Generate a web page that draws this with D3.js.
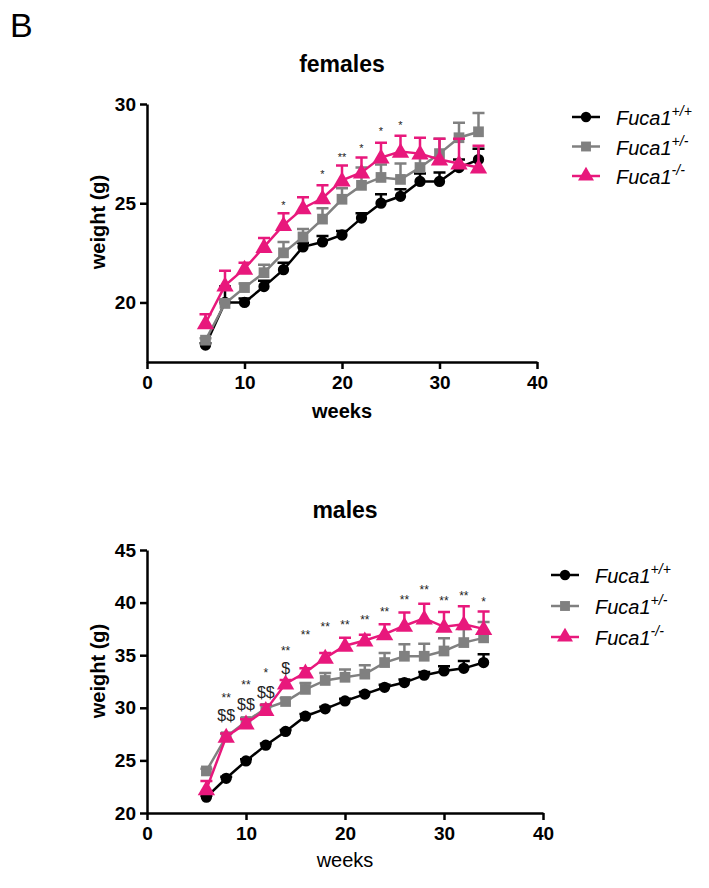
<!DOCTYPE html>
<html><head><meta charset="utf-8">
<script src="https://cdn.jsdelivr.net/npm/d3@7"></script>
<style>
body{margin:0;background:#fff}
svg{display:block}
text{font-family:"Liberation Sans",Arial,Helvetica,sans-serif}
</style>
</head><body>
<svg id="c" width="709" height="888"></svg>
<script>
// ---------- data ----------
const weeks = [6, 8, 10, 12, 14, 16, 18, 20, 22, 24, 26, 28, 30, 32, 34];
const xTicks = [0, 10, 20, 30, 40];
const femaleYTicks = [20, 25, 30];
const maleYTicks = [20, 25, 30, 35, 40, 45];
const genotypes = ["+/+", "+/-", "-/-"];

const femaleWT    = [17.85, 20.0, 20.0, 20.8, 21.65, 22.8, 23.05, 23.4, 24.25, 25.0, 25.35, 26.1, 26.1, 26.8, 27.2];
const femaleWTse  = [0.1, 0.8, 0.2, 0.3, 0.35, 0.2, 0.3, 0.2, 0.25, 0.45, 0.35, 0.4, 0.45, 0.4, 0.55];
const femaleHet   = [18.1, 19.95, 20.75, 21.5, 22.5, 23.3, 24.2, 25.2, 25.9, 26.3, 26.2, 26.8, 27.5, 28.3, 28.6];
const femaleHetse = [0.1, 0.2, 0.2, 0.4, 0.55, 0.4, 0.55, 0.55, 0.9, 0.65, 0.8, 0.55, 0.75, 0.75, 0.95];
const femaleKO    = [18.95, 20.85, 21.7, 22.8, 23.9, 24.75, 25.25, 26.15, 26.55, 27.3, 27.6, 27.5, 27.2, 27.0, 26.8];
const femaleKOse  = [0.45, 0.75, 0.3, 0.45, 0.6, 0.55, 0.65, 0.75, 0.75, 0.75, 0.8, 0.8, 1.05, 1.25, 1.1];

const maleWT    = [21.5, 23.3, 24.95, 26.45, 27.75, 29.2, 29.9, 30.65, 31.3, 31.95, 32.4, 33.1, 33.5, 33.75, 34.3];
const maleWTse  = [0.15, 0.15, 0.15, 0.15, 0.15, 0.2, 0.2, 0.2, 0.2, 0.25, 0.3, 0.3, 0.45, 0.7, 0.8];
const maleHet   = [24.0, 27.25, 28.7, 29.95, 30.6, 31.75, 32.6, 32.9, 33.2, 34.3, 34.9, 34.9, 35.4, 36.2, 36.65];
const maleHetse = [0.2, 0.3, 0.3, 0.3, 0.3, 0.6, 0.7, 0.75, 0.85, 0.9, 1.15, 1.2, 1.2, 1.3, 1.5];
const maleKO    = [22.25, 27.25, 28.5, 29.8, 32.3, 33.35, 34.75, 35.9, 36.4, 37.0, 37.8, 38.5, 37.7, 37.95, 37.5];
const maleKOse  = [0.8, 0.3, 0.4, 0.5, 0.35, 0.4, 0.45, 0.75, 0.55, 0.95, 1.25, 1.4, 1.4, 1.7, 1.65];

// significance annotations (week, label, level in g)
const femaleSigWeeks  = [14, 18, 20, 22, 24, 26];
const femaleSigLabels = ["*", "*", "**", "*", "*", "*"];
const femaleSigLevels = [25.05, 26.57, 27.47, 27.88, 28.74, 29.04];

const maleSigWeeks  = [8, 10, 12, 14, 16, 18, 20, 22, 24, 26, 28, 30, 32, 34];
const maleSigLabels = ["**", "**", "*", "**", "**", "**", "**", "**", "**", "**", "**", "**", "**", "*"];
const maleSigLevels = [31.2, 32.45, 33.6, 35.7, 37.2, 38.0, 38.15, 38.6, 39.4, 40.5, 41.5, 40.45, 40.9, 40.35];

const maleHetSigWeeks  = [8, 10, 12, 14];
const maleHetSigLabels = ["$$", "$$", "$$", "$"];
const maleHetSigLevels = [29.3, 30.35, 31.5, 33.8];

// ---------- drawing ----------
const colors = ["#000000", "#808080", "#e8187c"];
const symbols = [d3.symbolCircle, d3.symbolSquare, d3.symbolTriangle];
const symSizes = [100, 115, 130];
const svg = d3.select("#c");

svg.append("text").attr("x", 10).attr("y", 37).attr("font-size", 34).text("B");

function panel(o) {
  const g = svg.append("g");
  const x = d3.scaleLinear().domain([0, 40]).range([o.x0, o.x1]);
  const y = d3.scaleLinear().domain(o.yDomain).range([o.yb, o.yt]);

  const xa = g.append("g").attr("transform", `translate(0,${o.yb})`)
    .call(d3.axisBottom(x).tickValues(xTicks).tickSize(7).tickSizeOuter(0).tickPadding(7));
  const ya = g.append("g").attr("transform", `translate(${o.x0},0)`)
    .call(d3.axisLeft(y).tickValues(o.yTicks).tickSize(7).tickSizeOuter(0).tickPadding(4));
  [xa, ya].forEach(a => {
    a.selectAll("path,line").attr("stroke", "#000").attr("stroke-width", 2.5);
    a.selectAll("text").attr("font-size", 19).attr("font-weight", "bold").attr("fill", "#000")
      .style("font-family", '"Liberation Sans",Arial,sans-serif');
  });

  // title & labels
  g.append("text").attr("x", (o.x0 + o.x1) / 2).attr("y", o.titleY)
    .attr("text-anchor", "middle").attr("font-size", 23).attr("font-weight", "bold").text(o.title);
  g.append("text").attr("x", (o.x0 + o.x1) / 2).attr("y", o.xLabelY)
    .attr("text-anchor", "middle").attr("font-size", 20)
    .attr("font-weight", o.xLabelBold ? "bold" : "normal").text("weeks");
  g.append("text").attr("transform", `translate(${o.yLabelX},${o.yLabelY}) rotate(-90)`)
    .attr("text-anchor", "middle").attr("dominant-baseline", "central")
    .attr("font-size", 20).attr("font-weight", "bold").text("weight (g)");

  // series
  o.series.forEach((s, i) => {
    const sg = g.append("g");
    const pts = weeks.map((w, k) => ({ w, v: s.mean[k], e: s.se[k] }));
    sg.selectAll("path.eb").data(pts).join("path")
      .attr("d", d => {
        const cx = x(d.w), y0 = y(d.v), y1 = y(d.v + d.e);
        return `M${cx},${y0}V${y1}M${cx - 6},${y1}H${cx + 6}`;
      })
      .attr("fill", "none").attr("stroke", colors[i]).attr("stroke-width", 2.5);
    sg.append("path").datum(pts)
      .attr("d", d3.line().x(d => x(d.w)).y(d => y(d.v)))
      .attr("fill", "none").attr("stroke", colors[i]).attr("stroke-width", 2.5);
    sg.selectAll("path.pt").data(pts).join("path")
      .attr("transform", d => `translate(${x(d.w)},${y(d.v) + (i === 2 ? 1 : 0)})`)
      .attr("d", d3.symbol().type(symbols[i]).size(symSizes[i]))
      .attr("fill", colors[i]);
  });

  // annotations
  o.annots.forEach(a => {
    a.weeks.forEach((w, k) => {
      const lab = a.labels[k];
      const isStar = lab.includes("*");
      g.append("text").attr("x", x(w)).attr("y", y(a.levels[k]))
        .attr("dy", isStar ? "0.58em" : "0.36em")
        .attr("text-anchor", "middle").attr("font-size", isStar ? a.starSize : 16)
        .attr("fill", "#222").text(lab);
    });
  });

  // legend
  const lg = g.append("g");
  genotypes.forEach((gt, i) => {
    const cy = o.legY + i * o.legStep;
    lg.append("line").attr("x1", o.legX).attr("x2", o.legX + 28).attr("y1", cy).attr("y2", cy)
      .attr("stroke", colors[i]).attr("stroke-width", 2.5);
    lg.append("path").attr("transform", `translate(${o.legX + 14},${cy})`)
      .attr("d", d3.symbol().type(symbols[i]).size(symSizes[i] * 0.85)).attr("fill", colors[i]);
    const t = lg.append("text").attr("x", o.legX + 44).attr("y", cy + 8)
      .attr("font-size", 20).attr("font-style", "italic").attr("fill", "#000");
    t.append("tspan").text("Fuca1");
    t.append("tspan").attr("dy", -9).attr("font-size", 14).text(gt);
  });
}

panel({
  x0: 147, x1: 537, yb: 362, yt: 104, yDomain: [17, 30], yTicks: femaleYTicks,
  title: "females", titleY: 72, xLabelY: 418, xLabelBold: true,
  yLabelX: 98, yLabelY: 222,
  series: [
    { mean: femaleWT, se: femaleWTse },
    { mean: femaleHet, se: femaleHetse },
    { mean: femaleKO, se: femaleKOse }
  ],
  annots: [{ weeks: femaleSigWeeks, labels: femaleSigLabels, levels: femaleSigLevels, starSize: 11 }],
  legX: 572, legY: 117, legStep: 29.5
});

panel({
  x0: 147, x1: 543, yb: 813, yt: 550, yDomain: [20, 45], yTicks: maleYTicks,
  title: "males", titleY: 518, xLabelY: 867, xLabelBold: false,
  yLabelX: 98, yLabelY: 671,
  series: [
    { mean: maleWT, se: maleWTse },
    { mean: maleHet, se: maleHetse },
    { mean: maleKO, se: maleKOse }
  ],
  annots: [
    { weeks: maleSigWeeks, labels: maleSigLabels, levels: maleSigLevels, starSize: 12 },
    { weeks: maleHetSigWeeks, labels: maleHetSigLabels, levels: maleHetSigLevels, starSize: 12 }
  ],
  legX: 551, legY: 575, legStep: 31
});
</script>
</body></html>
